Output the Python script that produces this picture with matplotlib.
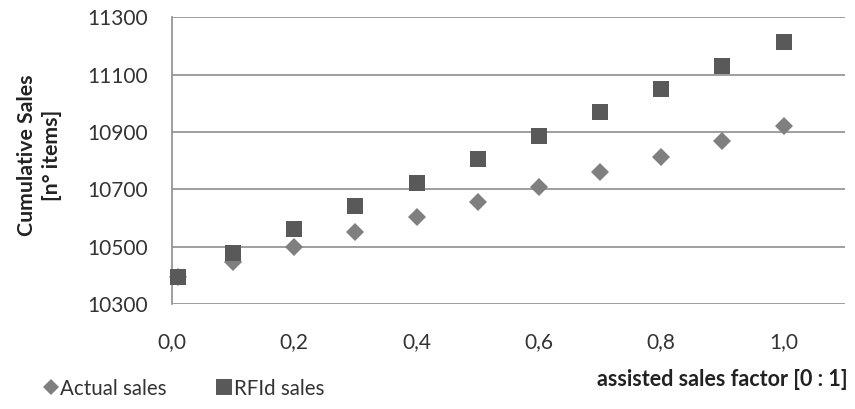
import matplotlib
matplotlib.use("Agg")
import matplotlib.pyplot as plt
from matplotlib.ticker import FuncFormatter
from matplotlib.lines import Line2D

plt.rcParams['font.family'] = ['Lato', 'DejaVu Sans']

# assisted sales factor
factor = [0.01, 0.1, 0.2, 0.3, 0.4, 0.5, 0.6, 0.7, 0.8, 0.9, 1.0]
actual_sales = [10395, 10447, 10498, 10550, 10604, 10656, 10709, 10761, 10813, 10868, 10921]
rfid_sales = [10395, 10477, 10560, 10641, 10723, 10804, 10885, 10968, 11049, 11130, 11213]

y_ticks = [10300, 10500, 10700, 10900, 11100, 11300]
x_ticks = [0.0, 0.2, 0.4, 0.6, 0.8, 1.0]

grid_col = '#8e8e8e'
rfid_col = '#595959'
actual_col = '#7f7f7f'

fig = plt.figure(figsize=(8.55, 4.09), dpi=100)
ax = fig.add_axes([0.201, 0.257, 0.787, 0.701])

ax.set_xlim(0, 1.1)
ax.set_ylim(10300, 11300)
ax.set_yticks(y_ticks)
ax.set_xticks(x_ticks)
ax.yaxis.grid(True, color=grid_col, linewidth=1.2)
ax.set_axisbelow(True)
for side in ['top', 'right', 'bottom']:
    ax.spines[side].set_visible(False)
ax.spines['left'].set_color(grid_col)
ax.spines['left'].set_linewidth(1.2)
ax.tick_params(axis='both', length=0, labelsize=15, colors='#333333')
ax.tick_params(axis='y', pad=17)
ax.tick_params(axis='x', pad=20)
ax.xaxis.set_major_formatter(FuncFormatter(lambda v, p: f"{v:.1f}".replace('.', ',')))

ax.plot(factor, actual_sales, linestyle='none', marker='D', markersize=9.2,
        color=actual_col, markeredgewidth=0, clip_on=False, zorder=3)
ax.plot(factor, rfid_sales, linestyle='none', marker='s', markersize=12.2,
        color=rfid_col, markeredgewidth=0, clip_on=False, zorder=4)

fig.text(0.046, 0.62, 'Cumulative Sales\n[n° items]', rotation=90, ha='center',
         va='center', fontsize=15.3, fontweight='bold', color='#222222',
         linespacing=1.35)
fig.text(0.991, 0.071, 'assisted sales factor [0 : 1]', ha='right', va='center',
         fontsize=15.5, fontweight='bold', color='#222222')

handles = [
    Line2D([], [], linestyle='none', marker='D', markersize=8.5, color=actual_col,
           markeredgewidth=0),
    Line2D([], [], linestyle='none', marker='s', markersize=11, color=rfid_col,
           markeredgewidth=0),
]
fig.legend(handles, ['Actual sales', 'RFId sales'], loc='center left',
           bbox_to_anchor=(0.031, 0.05), ncol=2, frameon=False, fontsize=14.8,
           handlelength=0.6, handletextpad=0.15, columnspacing=2.5,
           labelcolor='#333333')

fig.savefig('out.png', dpi=100, facecolor='white')
